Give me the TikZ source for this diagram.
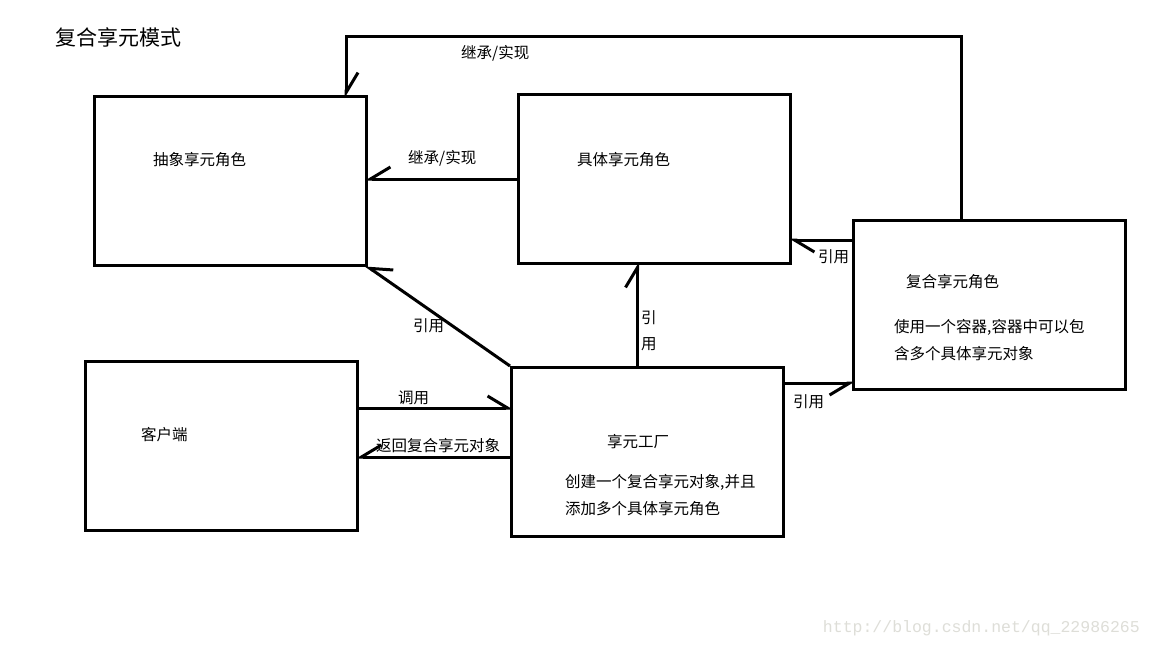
\documentclass[tikz,border=0pt]{standalone}
\usepackage{fontspec}
\setmainfont{Noto Sans CJK SC}
\newfontfamily\wmfont{Liberation Mono}
\usetikzlibrary{arrows.meta,positioning}
\definecolor{wmgray}{RGB}{222,222,216}

\begin{document}
\begin{tikzpicture}[x=1pt, y=-1pt,
          box/.style={draw, line width=3pt, anchor=north west, minimum width=272pt, minimum height=169pt, inner sep=0pt},
          conn/.style={line width=3pt, shorten >=-3pt},
          lbarb/.style={-{Straight Barb[harpoon, length=20pt, width=24pt, line width=3pt]}},
          rbarb/.style={-{Straight Barb[harpoon, swap, length=20pt, width=24pt, line width=3pt]}},
          txt/.style={anchor=west, inner sep=0pt, font=\fontsize{15.5}{18}\selectfont}]
        \useasboundingbox[fill=white] (0,0) rectangle (1152,648);
        % boxes
        \node[box] (abs) at (93,95) {};
        \node[box] (conc) at (517,93) {};
        \node[box] (comp) at (852,219) {};
        \node[box] (cli) at (84,360) {};
        \node[box] (fact) at (510,366) {};
        \coordinate (top) at (346,36);
        % texts in the boxes
        \node[txt, font=\fontsize{21}{24}\selectfont] (title) at (55,37) {复合享元模式};
        \node[txt] (absname) at (153,160) {抽象享元角色};
        \node[txt] (concname) at (577,160) {具体享元角色};
        \node[txt] (compname) at (906,282) {复合享元角色};
        \node[txt] (compdesc1) at (894,327) {使用一个容器,容器中可以包};
        \node[txt] (compdesc2) at (894,354) {含多个具体享元对象};
        \node[txt] (cliname) at (141,435) {客户端};
        \node[txt] (factname) at (607,442) {享元工厂};
        \node[txt] (factdesc1) at (565,482) {创建一个复合享元对象,并且};
        \node[txt] (factdesc2) at (565,509) {添加多个具体享元角色};
        % connectors
        \draw[conn, lbarb] ([xshift=-28pt]comp.north) |- (top) -- (top |- abs.north);
        \draw[conn, rbarb] (conc.west) -- (conc.west -| abs.east);
        \draw[conn, rbarb] (fact.north west) -- (abs.south east);
        \draw[conn, lbarb] ([xshift=-10pt]fact.north) -- ([xshift=-10pt]fact.north |- conc.south);
        \draw[conn, lbarb] ([yshift=-21pt]comp.north west) -- ([yshift=-21pt]comp.north west -| conc.east);
        \draw[conn, rbarb] ([yshift=-17pt]fact.north east) -- ([yshift=-17pt]fact.north east -| comp.west);
        \draw[conn, lbarb] ([yshift=-48pt]cli.north east) -- ([yshift=-48pt]cli.north east -| fact.west);
        \draw[conn, rbarb] ([yshift=-91pt]fact.north west) -- ([yshift=-91pt]fact.north west -| cli.east);
        % connector labels
        \node[txt] (l1) at (461,53) {继承/实现};
        \node[txt] (l2) at (408,158) {继承/实现};
        \node[txt] (l3) at (413,326) {引用};
        \node[txt] (l4a) at (641,318) {引};
        \node[txt] (l4b) at (641,344) {用};
        \node[txt] (l5) at (818,257) {引用};
        \node[txt] (l6) at (793,402) {引用};
        \node[txt] (l7) at (398,398) {调用};
        \node[txt] (l8) at (376,446) {返回复合享元对象};
        \node[anchor=east, inner sep=0pt, text=wmgray, font=\wmfont\fontsize{16.5}{18}\selectfont] (wm) at (1140,628) {http://blog.csdn.net/qq\_22986265};
      \end{tikzpicture}
\end{document}
